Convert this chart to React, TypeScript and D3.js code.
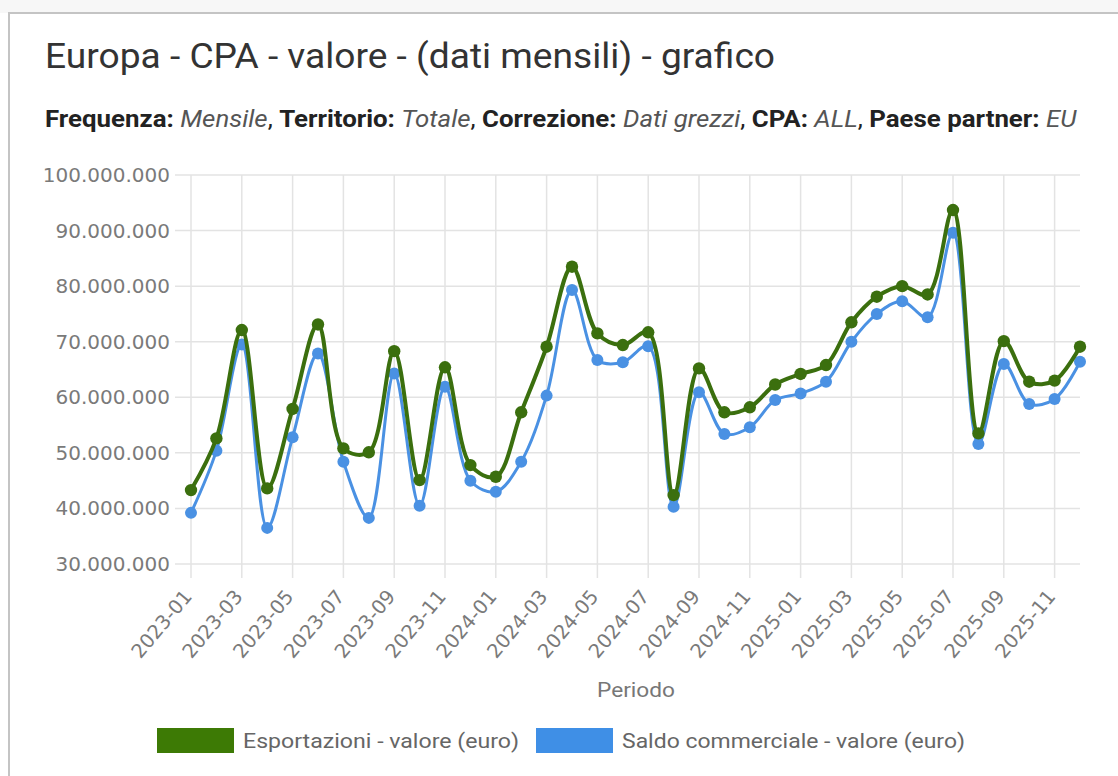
import React from "react";
import * as d3 from "d3";

const periods = [
  "2023-01","2023-02","2023-03","2023-04","2023-05","2023-06","2023-07","2023-08","2023-09","2023-10","2023-11","2023-12",
  "2024-01","2024-02","2024-03","2024-04","2024-05","2024-06","2024-07","2024-08","2024-09","2024-10","2024-11","2024-12",
  "2025-01","2025-02","2025-03","2025-04","2025-05","2025-06","2025-07","2025-08","2025-09","2025-10","2025-11","2025-12",
];

const esportazioni = [
  43300000, 52600000, 72100000, 43600000, 57900000, 73100000, 50800000, 50100000, 68300000, 45100000, 65400000, 47800000,
  45700000, 57300000, 69100000, 83500000, 71500000, 69400000, 71700000, 42400000, 65200000, 57300000, 58200000, 62300000,
  64200000, 65800000, 73500000, 78100000, 80000000, 78500000, 93700000, 53500000, 70100000, 62800000, 63000000, 69100000,
];

const saldo = [
  39200000, 50400000, 69500000, 36500000, 52800000, 67900000, 48400000, 38300000, 64300000, 40500000, 61900000, 45000000,
  43000000, 48400000, 60300000, 79300000, 66700000, 66300000, 69200000, 40300000, 60900000, 53400000, 54600000, 59500000,
  60700000, 62800000, 70000000, 75000000, 77300000, 74400000, 89600000, 51600000, 66000000, 58800000, 59700000, 66400000,
];

const yTicks = [30000000, 40000000, 50000000, 60000000, 70000000, 80000000, 90000000, 100000000];

const seriesNames = ["Esportazioni - valore (euro)", "Saldo commerciale - valore (euro)"];

const GREEN = "#3b6f0e";
const GREEN_LEG = "#3d7a05";
const BLUE = "#4a91e3";
const BLUE_LEG = "#3f8fe6";

const itLocale = d3.formatLocale({ decimal: ",", thousands: ".", grouping: [3], currency: ["", "€"] });
const fmt = itLocale.format(",");

export default function App() {
  const W = 1118, H = 776;
  const x = d3.scalePoint<string>().domain(periods).range([191, 1080]);
  const y = d3.scaleLinear().domain([30000000, 100000000]).range([564, 175]);
  const xTicks = periods.filter((_, i) => i % 2 === 0);

  const line = d3
    .line<number>()
    .x((_, i) => x(periods[i]) as number)
    .y((d) => y(d))
    .curve(d3.curveCatmullRom.alpha(0.5));

  return (
    <svg
      width={W}
      height={H}
      style={{ position: "fixed", left: 0, top: 0, background: "#ffffff" }}
    >
      <rect x={0} y={0} width={W} height={13} fill="#f7f7f7" />
      <rect x={9} y={13} width={W} height={H} fill="#ffffff" stroke="#c4c4c4" strokeWidth={2} />

      <text x={45} y={68} fontFamily="Roboto" fontSize={35} fill="#333" textLength={730} lengthAdjust="spacingAndGlyphs">
        Europa - CPA - valore - (dati mensili) - grafico
      </text>
      <g transform="translate(45,127) scale(1.077,1)">
        <text x={0} y={0} fontFamily="Roboto" fontSize={24} fill="#222">
          <tspan fontWeight="bold">Frequenza: </tspan>
          <tspan fontStyle="italic" fill="#555">Mensile</tspan>
          <tspan>, </tspan>
          <tspan fontWeight="bold">Territorio: </tspan>
          <tspan fontStyle="italic" fill="#555">Totale</tspan>
          <tspan>, </tspan>
          <tspan fontWeight="bold">Correzione: </tspan>
          <tspan fontStyle="italic" fill="#555">Dati grezzi</tspan>
          <tspan>, </tspan>
          <tspan fontWeight="bold">CPA: </tspan>
          <tspan fontStyle="italic" fill="#555">ALL</tspan>
          <tspan>, </tspan>
          <tspan fontWeight="bold">Paese partner: </tspan>
          <tspan fontStyle="italic" fill="#555">EU</tspan>
        </text>
      </g>

      {/* grid */}
      {yTicks.map((t) => (
        <line key={"h" + t} x1={175} x2={1080} y1={y(t)} y2={y(t)} stroke="#e3e3e3" strokeWidth={1.5} />
      ))}
      {xTicks.map((p) => (
        <line key={"v" + p} x1={x(p)} x2={x(p)} y1={175} y2={578} stroke="#e3e3e3" strokeWidth={1.5} />
      ))}

      {/* y labels */}
      {yTicks.map((t) => (
        <text
          key={"yl" + t}
          x={170}
          y={y(t)}
          dy="0.35em"
          textAnchor="end"
          fontFamily="DejaVu Sans"
          fontSize={20}
          fill="#7a7a7a"
        >
          {fmt(t)}
        </text>
      ))}

      {/* x labels */}
      {xTicks.map((p) => (
        <text
          key={"xl" + p}
          transform={`translate(${(x(p) as number) + 2},597) rotate(-50)`}
          textAnchor="end"
          fontFamily="DejaVu Sans"
          fontSize={19.5}
          fill="#7a7a7a"
        >
          {p}
        </text>
      ))}

      <text x={636} y={697} textAnchor="middle" fontFamily="Roboto" fontSize={20} fill="#777" textLength={78} lengthAdjust="spacingAndGlyphs">
        Periodo
      </text>

      {/* series: blue below, green on top */}
      <path d={line(saldo) || ""} fill="none" stroke={BLUE} strokeWidth={3} />
      {saldo.map((v, i) => (
        <circle key={"sp" + i} cx={x(periods[i])} cy={y(v)} r={6} fill={BLUE} />
      ))}
      <path d={line(esportazioni) || ""} fill="none" stroke={GREEN} strokeWidth={4} />
      {esportazioni.map((v, i) => (
        <circle key={"ep" + i} cx={x(periods[i])} cy={y(v)} r={6.2} fill={GREEN} />
      ))}

      {/* legend */}
      <rect x={157} y={728} width={77} height={25} fill={GREEN_LEG} />
      <text x={243} y={748} fontFamily="Roboto" fontSize={21} fill="#666" textLength={276} lengthAdjust="spacingAndGlyphs">
        {seriesNames[0]}
      </text>
      <rect x={536} y={728} width={77} height={25} fill={BLUE_LEG} />
      <text x={622} y={748} fontFamily="Roboto" fontSize={21} fill="#666" textLength={343} lengthAdjust="spacingAndGlyphs">
        {seriesNames[1]}
      </text>
    </svg>
  );
}
